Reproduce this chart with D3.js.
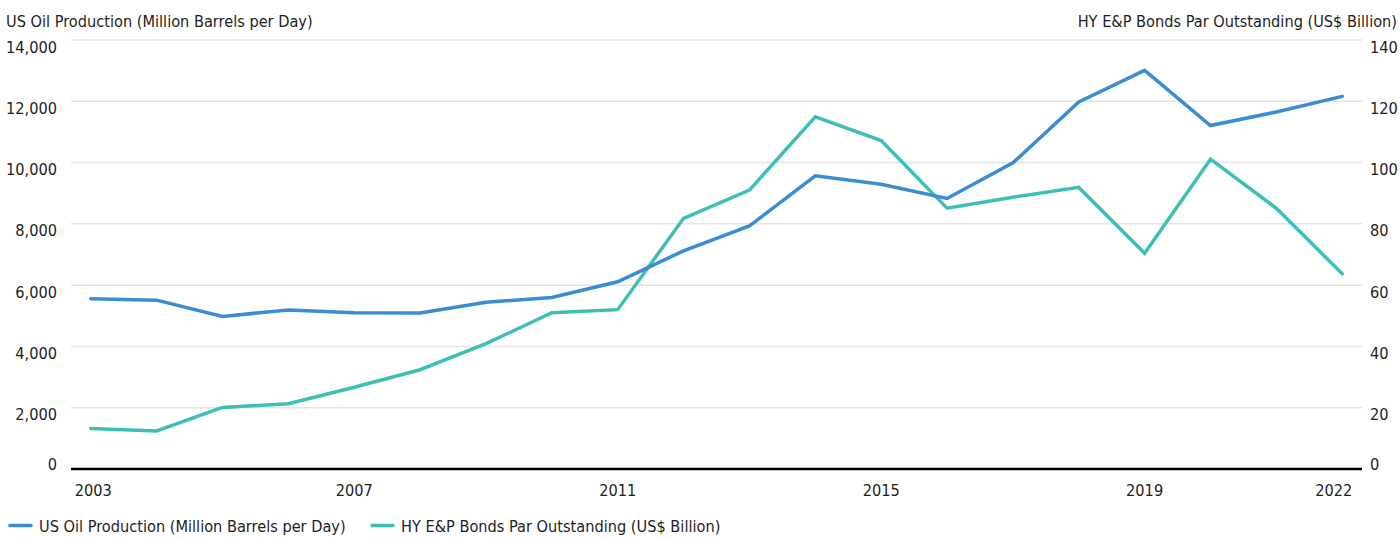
<!DOCTYPE html>
<html>
<head>
<meta charset="utf-8">
<script src="https://cdn.jsdelivr.net/npm/d3@7"></script>
<style>
  html, body { margin: 0; padding: 0; background: #fff; }
  svg text { font-family: "DejaVu Sans Condensed", "Liberation Sans Narrow", sans-serif; fill: #1e1e1e; }
</style>
</head>
<body>
<svg id="chart" width="1400" height="539"></svg>
<script>
// Years on the x axis
const years = [2003, 2004, 2005, 2006, 2007, 2008, 2009, 2010, 2011, 2012,
               2013, 2014, 2015, 2016, 2017, 2018, 2019, 2020, 2021, 2022];
// US oil production (left axis)
const oilProduction = [5560, 5510, 4980, 5190, 5100, 5095, 5440, 5600, 6110, 7120,
                       7930, 9570, 9290, 8830, 9990, 11980, 13010, 11210, 11650, 12160];
// HY E&P bonds par outstanding (right axis)
const hyBonds = [13.2, 12.4, 20.1, 21.3, 26.7, 32.4, 40.9, 51.0, 52.0, 81.8,
                 91.0, 114.9, 107.2, 85.1, 88.7, 91.9, 70.4, 101.1, 85.1, 63.7];
// Tick values
const leftTicks = [0, 2000, 4000, 6000, 8000, 10000, 12000, 14000];
const rightTicks = [0, 20, 40, 60, 80, 100, 120, 140];
const xTickYears = [2003, 2007, 2011, 2015, 2019, 2022];

const leftTitle = "US Oil Production (Million Barrels per Day)";
const rightTitle = "HY E&P Bonds Par Outstanding (US$ Billion)";
const blue = "#3a8dd1";
const teal = "#3dbfb2";
const fs = 16.2;

const svg = d3.select("#chart");
const plot = { left: 71, right: 1362, top: 40, bottom: 469 };

const x = d3.scalePoint().domain(years).range([plot.left, plot.right]).padding(0.3);
const yL = d3.scaleLinear().domain([0, 14000]).range([plot.bottom, plot.top]);
const yR = d3.scaleLinear().domain([0, 140]).range([plot.bottom, plot.top]);

// Gridlines
svg.append("g").selectAll("line")
  .data(leftTicks.filter(d => d > 0))
  .join("line")
  .attr("x1", plot.left).attr("x2", plot.right)
  .attr("y1", d => yL(d)).attr("y2", d => yL(d))
  .attr("stroke", "#e4e4e4").attr("stroke-width", 1.5);

// Left axis labels
svg.append("g").selectAll("text")
  .data(leftTicks)
  .join("text")
  .attr("x", 57)
  .attr("y", d => d === 0 ? yL(d) + 1 : yL(d) + 12.5)
  .attr("text-anchor", "end")
  .attr("font-size", fs)
  .text(d => d3.format(",")(d));

// Right axis labels
svg.append("g").selectAll("text")
  .data(rightTicks)
  .join("text")
  .attr("x", 1370)
  .attr("y", d => d === 0 ? yR(d) + 1 : yR(d) + 12.5)
  .attr("text-anchor", "start")
  .attr("font-size", fs)
  .text(d => d);

// Axis titles
svg.append("text").attr("x", 6).attr("y", 27).attr("font-size", fs).text(leftTitle);
svg.append("text").attr("x", 1397).attr("y", 27).attr("font-size", fs)
  .attr("text-anchor", "end").text(rightTitle);

// X labels
svg.append("g").selectAll("text")
  .data(xTickYears)
  .join("text")
  .attr("x", (d, i) => i === 0 ? x(d) - 16 : (i === xTickYears.length - 1 ? x(d) + 10 : x(d)))
  .attr("y", 496)
  .attr("text-anchor", (d, i) => i === 0 ? "start" : (i === xTickYears.length - 1 ? "end" : "middle"))
  .attr("font-size", fs)
  .text(d => d);

// Lines
const lineL = d3.line().x((d, i) => x(years[i])).y(d => yL(d));
const lineR = d3.line().x((d, i) => x(years[i])).y(d => yR(d));

svg.append("path").datum(hyBonds)
  .attr("d", lineR).attr("fill", "none")
  .attr("stroke", teal).attr("stroke-width", 3.5)
  .attr("stroke-linejoin", "miter").attr("stroke-linecap", "round");

svg.append("path").datum(oilProduction)
  .attr("d", lineL).attr("fill", "none")
  .attr("stroke", blue).attr("stroke-width", 3.5)
  .attr("stroke-linejoin", "miter").attr("stroke-linecap", "round");

// Baseline
svg.append("line")
  .attr("x1", plot.left).attr("x2", plot.right)
  .attr("y1", yL(0)).attr("y2", yL(0))
  .attr("stroke", "#000").attr("stroke-width", 2.5);

// Legend
const legend = [
  { label: leftTitle, color: blue, x: 10 },
  { label: rightTitle, color: teal, x: 372 }
];
const lg = svg.append("g").selectAll("g").data(legend).join("g")
  .attr("transform", d => `translate(${d.x},525.5)`);
lg.append("line").attr("x1", 0).attr("x2", 21).attr("y1", 0).attr("y2", 0)
  .attr("stroke", d => d.color).attr("stroke-width", 3.5).attr("stroke-linecap", "round");
lg.append("text").attr("x", 29).attr("y", 6).attr("font-size", fs).text(d => d.label);
</script>
</body>
</html>
